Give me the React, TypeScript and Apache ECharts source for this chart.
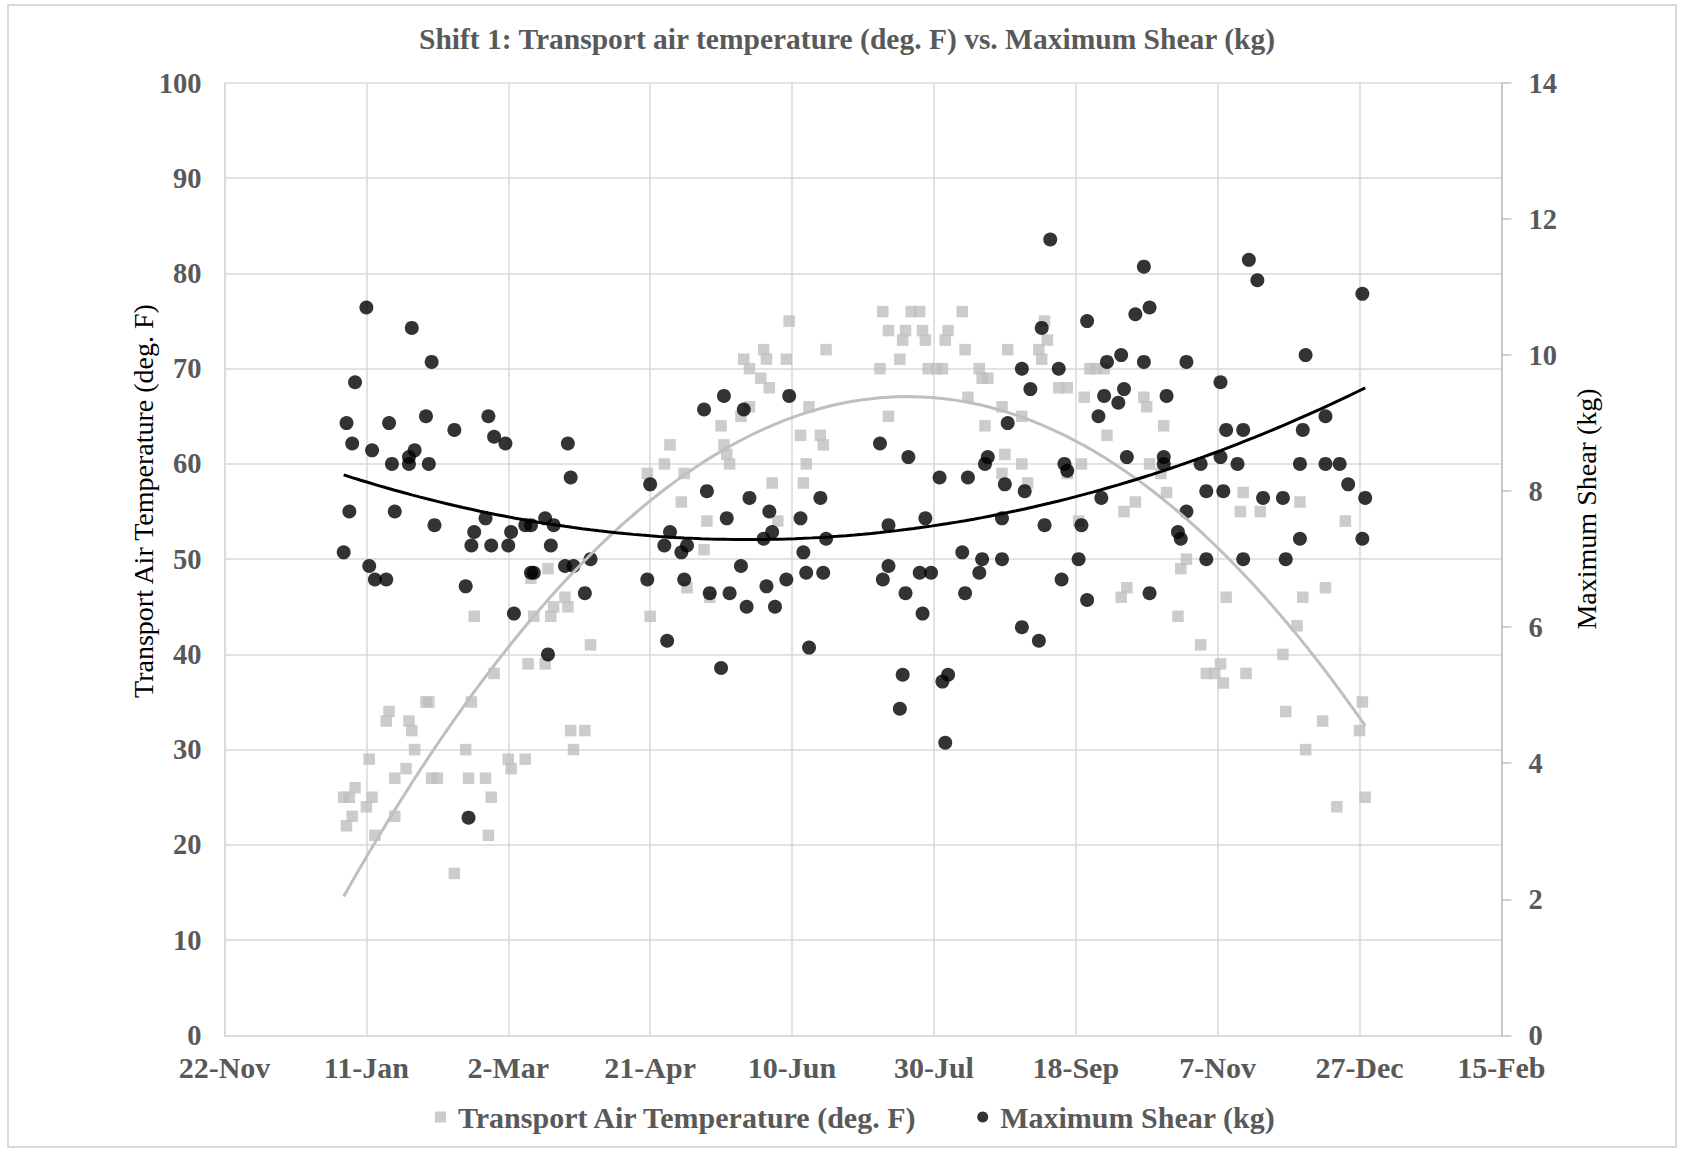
import React, { useEffect, useRef } from "react";
import * as echarts from "echarts";

// Days are counted from 22 Nov 2012 (the first x-axis tick).
const tempDays = [
  42, 43, 44, 45, 46, 50, 51, 52, 53, 57, 58, 60, 60, 64, 65, 66, 67, 71, 72, 73,
  75, 81, 85, 86, 87, 88, 92, 93, 94, 95, 100, 101, 106, 107, 108, 109, 113, 114, 115, 116,
  120, 121, 122, 123, 127, 129, 149, 150, 155, 157, 161, 162, 163, 169, 170, 171, 175, 176, 177, 178,
  182, 183, 185, 185, 189, 190, 191, 192, 193, 195, 198, 199, 203, 204, 205, 206, 210, 211, 212, 231,
  232, 234, 234, 238, 239, 240, 242, 245, 246, 247, 248, 251, 253, 254, 255, 260, 261, 262, 266, 267,
  268, 269, 274, 274, 275, 276, 281, 281, 283, 287, 288, 289, 290, 294, 297, 297, 301, 302, 303, 305,
  307, 310, 311, 316, 317, 318, 321, 324, 325, 326, 330, 331, 332, 336, 337, 339, 344, 346, 349, 351,
  352, 353, 358, 359, 360, 365, 373, 374, 378, 379, 380, 381, 387, 388, 392, 395, 400, 401, 402,
];
const tempValues = [
  25, 22, 25, 23, 26, 24, 29, 25, 21, 33, 34, 27, 23, 28, 33, 32, 30, 35, 35, 27,
  27, 17, 30, 27, 35, 44, 27, 21, 25, 38, 29, 28, 29, 39, 48, 44, 39, 49, 44, 45,
  46, 45, 32, 30, 32, 41, 59, 44, 60, 62, 56, 59, 47, 51, 54, 46, 64, 62, 61, 60,
  65, 71, 66, 70, 69, 72, 71, 68, 58, 54, 71, 75, 63, 58, 60, 66, 63, 62, 72, 70,
  76, 74, 65, 71, 73, 74, 76, 76, 74, 73, 70, 70, 70, 73, 74, 76, 72, 67, 70, 69,
  64, 69, 66, 59, 61, 72, 65, 60, 58, 72, 71, 75, 73, 68, 68, 59, 54, 60, 67, 70,
  70, 70, 63, 46, 55, 47, 56, 67, 66, 60, 59, 64, 57, 44, 49, 50, 41, 38, 38, 39,
  37, 46, 55, 57, 38, 55, 40, 34, 43, 56, 46, 30, 33, 47, 24, 54, 32, 35, 25,
];

const shearDays = [
  43, 42, 44, 46, 45, 50, 51, 52, 53, 57, 58, 60, 59, 65, 65, 66, 67, 71, 72, 73,
  74, 81, 85, 86, 88, 87, 93, 92, 95, 94, 99, 100, 101, 102, 106, 108, 108, 109, 113, 114,
  115, 116, 120, 123, 121, 122, 127, 129, 150, 149, 155, 157, 156, 161, 163, 162, 169, 170, 171, 175,
  176, 177, 178, 182, 183, 184, 185, 190, 191, 192, 193, 194, 198, 199, 203, 204, 205, 206, 210, 211,
  212, 231, 234, 234, 232, 238, 239, 240, 241, 245, 249, 246, 247, 252, 253, 255, 254, 260, 261, 262,
  266, 267, 268, 269, 274, 274, 275, 276, 281, 281, 282, 284, 287, 288, 289, 291, 294, 295, 296, 297,
  301, 302, 304, 304, 308, 309, 310, 311, 315, 316, 317, 318, 321, 324, 324, 326, 326, 331, 331, 332,
  336, 337, 339, 339, 344, 346, 346, 351, 351, 352, 353, 357, 359, 359, 361, 364, 366, 373, 374, 379,
  379, 380, 381, 388, 388, 393, 396, 401, 401, 402,
];
const shearValues = [
  9.0, 7.1, 7.7, 9.6, 8.7, 10.7, 6.9, 8.6, 6.7, 6.7, 9.0, 7.7, 8.4, 8.5, 8.4, 10.4, 8.6, 9.1, 8.4, 9.9,
  7.5, 8.9, 6.6, 3.2, 7.4, 7.2, 9.1, 7.6, 8.8, 7.2, 8.7, 7.2, 7.4, 6.2, 7.5, 7.5, 6.8, 6.8, 7.6, 5.6,
  7.2, 7.5, 6.9, 6.9, 8.7, 8.2, 6.5, 7.0, 8.1, 6.7, 7.2, 7.4, 5.8, 7.1, 7.2, 6.7, 9.2, 8.0, 6.5, 5.4,
  9.4, 7.6, 6.5, 6.9, 9.2, 6.3, 7.9, 7.3, 6.6, 7.7, 7.4, 6.3, 6.7, 9.4, 7.6, 7.1, 6.8, 5.7, 7.9, 6.8,
  7.3, 8.7, 7.5, 6.9, 6.7, 4.8, 5.3, 6.5, 8.5, 6.8, 6.8, 6.2, 7.6, 8.2, 5.2, 5.3, 4.3, 7.1, 6.5, 8.2,
  6.8, 7.0, 8.4, 8.5, 7.0, 7.6, 8.1, 9.0, 6.0, 9.8, 8.0, 9.5, 5.8, 10.4, 7.5, 11.7, 9.8, 6.7, 8.4, 8.3,
  7.0, 7.5, 6.4, 10.5, 9.1, 7.9, 9.4, 9.9, 9.3, 10.0, 9.5, 8.5, 10.6, 11.3, 9.9, 10.7, 6.5, 8.4, 8.5, 9.4,
  7.4, 7.3, 7.7, 9.9, 8.4, 8.0, 7.0, 8.5, 9.6, 8.0, 8.9, 8.4, 8.9, 7.0, 11.4, 11.1, 7.9, 7.9, 7.0, 7.3,
  8.4, 8.9, 10.0, 9.1, 8.4, 8.4, 8.1, 10.9, 7.3, 7.9,
];

const CHART_TITLE = "Shift 1: Transport air temperature (deg. F) vs. Maximum Shear (kg)";
const TEMP_NAME = "Transport Air Temperature (deg. F)";
const SHEAR_NAME = "Maximum Shear (kg)";
const MONTHS = ["Jan", "Feb", "Mar", "Apr", "May", "Jun", "Jul", "Aug", "Sep", "Oct", "Nov", "Dec"];
const START = Date.UTC(2012, 10, 22);

function dayLabel(d: number): string {
  const dt = new Date(START + Math.round(d) * 86400000);
  return `${dt.getUTCDate()}-${MONTHS[dt.getUTCMonth()]}`;
}

// Least-squares second-order polynomial (same as a spreadsheet "polynomial, order 2" trendline)
function quadTrend(xs: number[], ys: number[], steps = 120): number[][] {
  const n = xs.length;
  const mx = xs.reduce((a, b) => a + b, 0) / n;
  let s1 = 0, s2 = 0, s3 = 0, s4 = 0, t0 = 0, t1 = 0, t2 = 0;
  for (let i = 0; i < n; i++) {
    const x = xs[i] - mx;
    const y = ys[i];
    s1 += x; s2 += x * x; s3 += x * x * x; s4 += x * x * x * x;
    t0 += y; t1 += x * y; t2 += x * x * y;
  }
  const m = [
    [n, s1, s2, t0],
    [s1, s2, s3, t1],
    [s2, s3, s4, t2],
  ];
  for (let c = 0; c < 3; c++) {
    for (let r = c + 1; r < 3; r++) {
      const f = m[r][c] / m[c][c];
      for (let k = c; k < 4; k++) m[r][k] -= f * m[c][k];
    }
  }
  const coef = [0, 0, 0];
  for (let r = 2; r >= 0; r--) {
    let s = m[r][3];
    for (let k = r + 1; k < 3; k++) s -= m[r][k] * coef[k];
    coef[r] = s / m[r][r];
  }
  const lo = Math.min(...xs);
  const hi = Math.max(...xs);
  const pts: number[][] = [];
  for (let i = 0; i <= steps; i++) {
    const x = lo + ((hi - lo) * i) / steps;
    const u = x - mx;
    pts.push([x, coef[0] + coef[1] * u + coef[2] * u * u]);
  }
  return pts;
}

const SERIF = "'Liberation Serif', 'Times New Roman', serif";
const GRID_COLOR = "#d9d9d9";
const LABEL_COLOR = "#595959";

export default function App() {
  const ref = useRef<HTMLDivElement>(null);

  useEffect(() => {
    document.body.style.margin = "0";
    if (!ref.current) return;
    const chart = echarts.init(ref.current, undefined, { renderer: "svg" });

    const tempData = tempDays.map((d, i) => [d, tempValues[i]]);
    const shearData = shearDays.map((d, i) => [d, shearValues[i]]);

    chart.setOption({
      animation: false,
      backgroundColor: "#ffffff",
      title: {
        text: CHART_TITLE,
        left: 414,
        top: 19,
        textStyle: { fontFamily: SERIF, fontWeight: "bold", fontSize: 29.5, color: LABEL_COLOR },
      },
      grid: { left: 224.5, right: 182.6, top: 83, bottom: 116.7, containLabel: false },
      legend: {
        left: 430,
        top: 1097,
        itemWidth: 11,
        itemHeight: 11,
        itemGap: 59,
        selectedMode: false,
        data: [
          { name: TEMP_NAME, icon: "rect", itemStyle: { color: "#bfbfbf" } },
          { name: SHEAR_NAME, icon: "circle", itemStyle: { color: "#000000" } },
        ],
        textStyle: { fontFamily: SERIF, fontWeight: "bold", fontSize: 30, color: LABEL_COLOR, padding: [0, 0, 0, 7] },
      },
      xAxis: {
        type: "value",
        min: 0,
        max: 450,
        interval: 50,
        axisLine: { show: true, lineStyle: { color: GRID_COLOR, width: 1.5 } },
        axisTick: { show: false },
        splitLine: { show: true, lineStyle: { color: GRID_COLOR, width: 1.5 } },
        axisLabel: {
          formatter: (v: number) => dayLabel(v),
          margin: 17,
          fontFamily: SERIF,
          fontWeight: "bold",
          fontSize: 30,
          color: LABEL_COLOR,
        },
      },
      yAxis: [
        {
          type: "value",
          min: 0,
          max: 100,
          interval: 10,
          axisLine: { show: true, lineStyle: { color: GRID_COLOR, width: 1.5 } },
          axisTick: { show: false },
          splitLine: { show: true, lineStyle: { color: GRID_COLOR, width: 1.5 } },
          axisLabel: { margin: 23, fontFamily: SERIF, fontWeight: "bold", fontSize: 28.5, color: LABEL_COLOR },
        },
        {
          type: "value",
          min: 0,
          max: 14,
          interval: 2,
          position: "right",
          axisLine: { show: true, lineStyle: { color: "#bfbfbf", width: 1.5 } },
          axisTick: { show: true, inside: false, length: 10, lineStyle: { color: "#bfbfbf", width: 1.5 } },
          splitLine: { show: false },
          axisLabel: { margin: 27, fontFamily: SERIF, fontWeight: "bold", fontSize: 28.5, color: LABEL_COLOR },
        },
      ],
      series: [
        {
          name: TEMP_NAME,
          type: "scatter",
          symbol: "rect",
          symbolSize: 11.5,
          itemStyle: { color: "#bfbfbf" },
          data: tempData,
          z: 2,
        },
        {
          name: SHEAR_NAME,
          type: "scatter",
          yAxisIndex: 1,
          symbol: "circle",
          symbolSize: 14,
          itemStyle: { color: "#000000" },
          data: shearData,
          z: 3,
        },
        {
          name: "temp-trend",
          type: "line",
          showSymbol: false,
          silent: true,
          lineStyle: { color: "#bfbfbf", width: 3 },
          data: quadTrend(tempDays, tempValues),
          z: 4,
        },
        {
          name: "shear-trend",
          type: "line",
          yAxisIndex: 1,
          showSymbol: false,
          silent: true,
          lineStyle: { color: "#000000", width: 3 },
          data: quadTrend(shearDays, shearValues),
          z: 5,
        },
      ],
      graphic: [
        {
          type: "rect",
          shape: { x: 8, y: 5, width: 1668, height: 1142 },
          style: { fill: "none", stroke: GRID_COLOR, lineWidth: 2 },
          silent: true,
        },
        {
          type: "text",
          x: 143,
          y: 501,
          rotation: Math.PI / 2,
          style: {
            text: TEMP_NAME,
            fontFamily: SERIF,
            fontSize: 28,
            fill: "#000000",
            textAlign: "center",
            textVerticalAlign: "middle",
          },
        },
        {
          type: "text",
          x: 1586,
          y: 509,
          rotation: Math.PI / 2,
          style: {
            text: SHEAR_NAME,
            fontFamily: SERIF,
            fontSize: 28,
            fill: "#000000",
            textAlign: "center",
            textVerticalAlign: "middle",
          },
        },
      ],
    });

    return () => chart.dispose();
  }, []);

  return <div ref={ref} style={{ width: 1684, height: 1152 }} />;
}
